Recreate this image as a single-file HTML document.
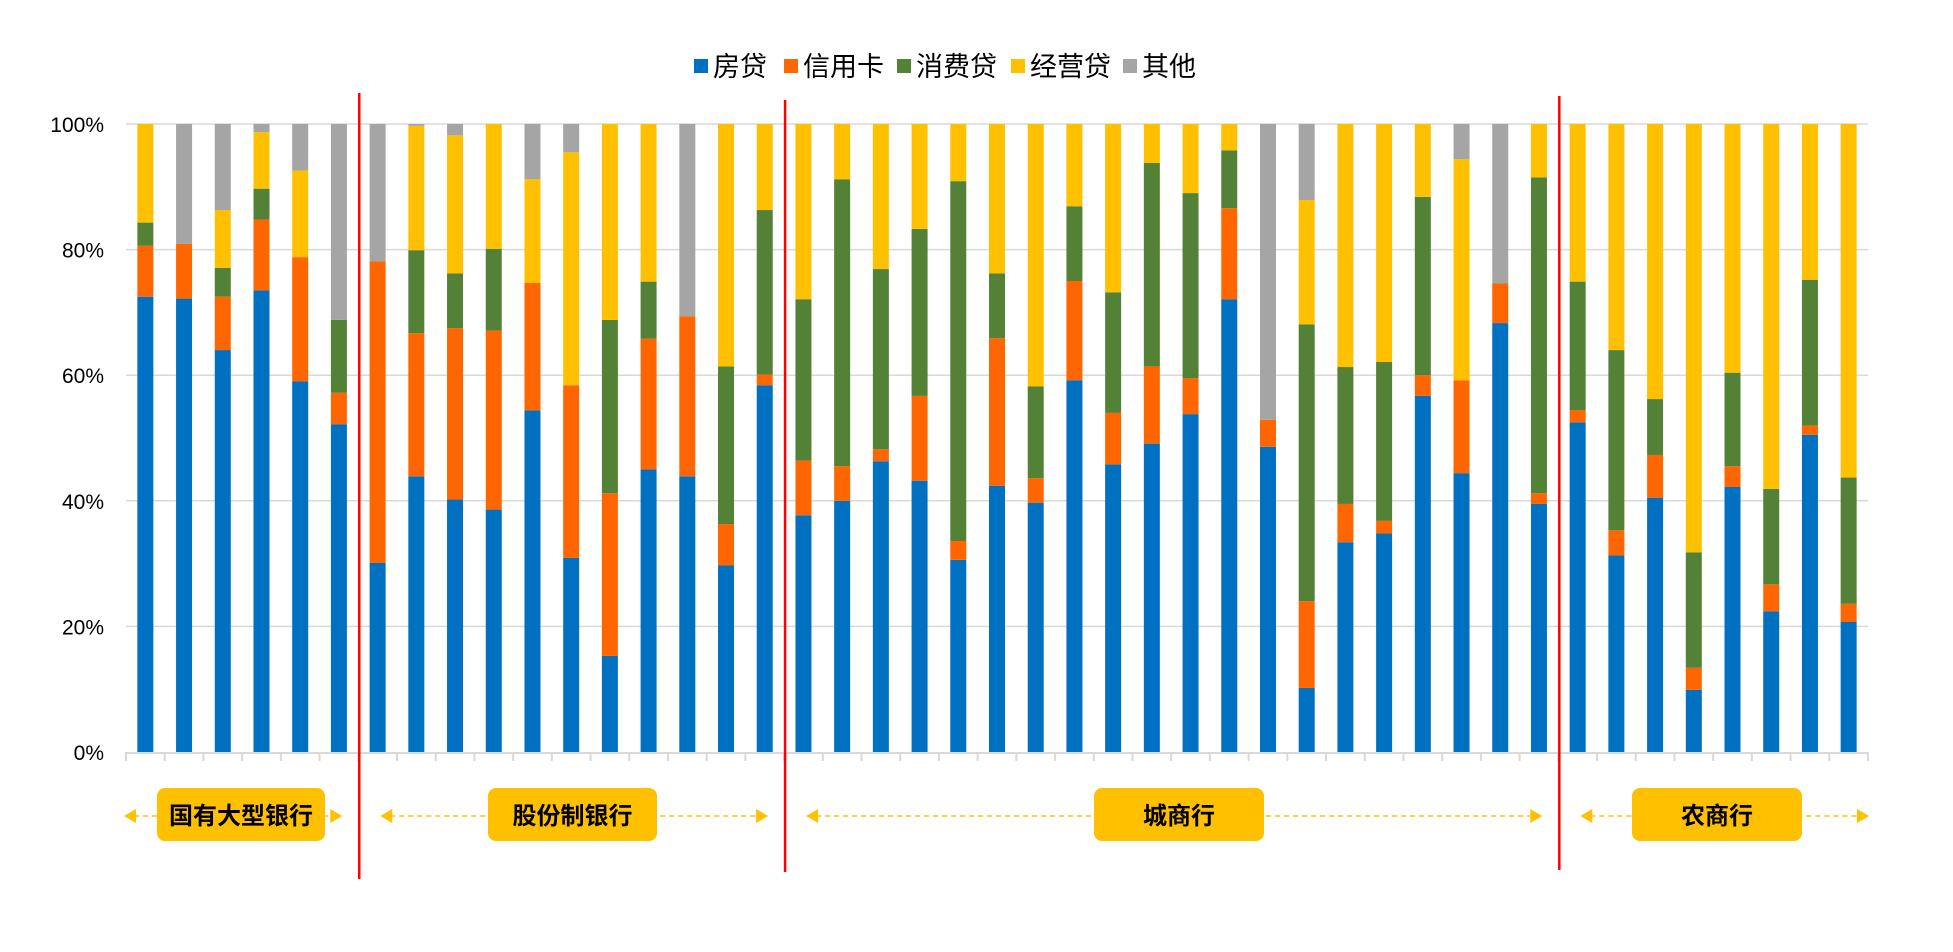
<!DOCTYPE html>
<html><head><meta charset="utf-8"><style>
html,body{margin:0;padding:0;background:#fff;}
svg{display:block;font-family:"Liberation Sans","Noto Sans CJK SC",sans-serif;}
</style></head><body>
<svg id="chart" width="1953" height="952" viewBox="0 0 1953 952" xmlns="http://www.w3.org/2000/svg">
<g id="grid"></g>
<g id="bars"></g>
<g id="axis"></g>
<g id="yticks"></g>
<g id="legend"></g>
<g id="groups"></g>
</svg>
<script>
const housing = [72.5,72.2,64.0,73.5,59.0,52.2,30.1,43.9,40.2,38.6,54.4,30.9,15.3,45.0,43.9,29.7,58.4,37.7,40.0,46.3,43.2,30.6,42.4,39.7,59.2,45.8,49.1,53.8,72.1,48.6,10.2,33.4,34.8,56.7,44.4,68.3,39.5,52.5,31.3,40.5,9.9,42.2,22.4,50.5,20.7];
const creditCard = [8.1,8.7,8.5,11.3,19.8,5.0,48.0,22.8,27.3,28.5,20.3,27.5,25.9,20.8,25.5,6.6,1.7,8.7,5.5,1.9,13.5,3.0,23.5,3.9,15.8,8.2,12.3,5.7,14.5,4.3,13.8,6.1,2.0,3.3,14.8,6.3,1.7,1.9,4.0,6.8,3.5,3.3,4.3,1.5,2.9];
const consumer = [3.7,0,4.6,4.9,0,11.6,0,13.2,8.7,13.0,0,0,27.6,9.1,0,25.1,26.2,25.7,45.7,28.7,26.6,57.3,10.3,14.6,11.9,19.2,32.4,29.5,9.2,0,44.1,21.8,25.3,28.4,0,0,50.3,20.5,28.7,8.9,18.4,14.9,15.2,23.2,20.1];
const business = [15.7,0,9.2,9.0,13.8,0,0,19.8,22.0,19.9,16.5,37.1,31.2,25.1,0,38.6,13.7,27.9,8.8,23.1,16.7,9.1,23.8,41.8,13.1,26.8,6.2,11.0,4.2,0,19.8,38.7,37.9,11.6,35.2,0,8.5,25.1,36.0,43.8,68.2,39.6,58.1,24.8,56.3];
const other = [0,19.1,13.7,1.3,7.4,31.2,21.9,0.3,1.8,0,8.8,4.5,0,0,30.6,0,0,0,0,0,0,0,0,0,0,0,0,0,0,47.1,12.1,0,0,0,5.6,25.4,0,0,0,0,0,0,0,0,0];
const seriesNames = ["房贷","信用卡","消费贷","经营贷","其他"];
const tickLabels = ["0%","20%","40%","60%","80%","100%"];
const tickValues = [0,20,40,60,80,100];
const groupNames = ["国有大型银行","股份制银行","城商行","农商行"];
const groupSizes = [6,11,20,8];

const NS="http://www.w3.org/2000/svg";
const colors=["#0070C0","#FF6600","#538135","#FFC000","#A5A5A5"];
const series=[housing,creditCard,consumer,business,other];
const X0=126,X1=1868,Y0=752,Y100=124;
const n=housing.length, step=(X1-X0)/n, bw=16;
const y=v=>Y0-(Y0-Y100)*v/100;
const xc=i=>X0+step*(i+0.5);
function mk(tag,attrs,parent){const e=document.createElementNS(NS,tag);for(const k in attrs)e.setAttribute(k,attrs[k]);parent.appendChild(e);return e;}

const grid=document.getElementById('grid');
tickValues.forEach((t,i)=>{
  if(t>0){const l=mk('line',{x1:X0,x2:X1,y1:y(t),y2:y(t),stroke:'#D9D9D9','stroke-width':1.5},grid);
  
  }
  const tx=mk('text',{x:104,y:y(t)+8,'text-anchor':'end','font-size':21,fill:'#000'},document.getElementById('yticks'));
  tx.textContent=tickLabels[i];
  
  
});

const bars=document.getElementById('bars');
for(let i=0;i<n;i++){
  let cum=0;
  series.forEach((s,k)=>{
    const v=s[i]; if(v<=0){return;}
    const r=mk('rect',{x:xc(i)-bw/2,y:y(cum+v),width:bw,height:y(cum)-y(cum+v),fill:colors[k]},bars);
    
    
    cum+=v;
  });
}

const axis=document.getElementById('axis');
const al=mk('line',{x1:X0,x2:X1,y1:Y0+1,y2:Y0+1,stroke:'#D9D9D9','stroke-width':2},axis);


for(let i=0;i<=n;i++){
  const t=mk('line',{x1:X0+step*i,x2:X0+step*i,y1:Y0,y2:Y0+9,stroke:'#D9D9D9','stroke-width':2},axis);
  
  
}

const legend=document.getElementById('legend');
const lx=[694,784,897,1011,1123];
seriesNames.forEach((nm,k)=>{
  const g=mk('g',{},legend);
  
  
  mk('rect',{x:lx[k],y:59,width:14,height:14,fill:colors[k]},g);
  const t=mk('text',{x:lx[k]+19,y:76,'font-size':27,fill:'#000'},g);
  t.textContent=nm;
});

// separators and group labels
const groups=document.getElementById('groups');
const sepTop=[93,100,96], sepBot=[879,872,870];
let acc=0;
const boxes=[[157,325],[488,657],[1094,1264],[1632,1802]];
groupSizes.forEach((sz,gi)=>{
  const left=X0+step*acc, right=X0+step*(acc+sz);
  const g=mk('g',{},groups);
  
  
  const lt=left+(gi===0?-2:22), rt=right-(gi===groupSizes.length-1?-1:16);
  mk('line',{x1:lt+10,x2:rt-10,y1:816,y2:816,stroke:'#FFC000','stroke-width':1.5,'stroke-dasharray':'5,4'},g);
  mk('polygon',{points:`${lt},816 ${lt+12},809 ${lt+12},823`,fill:'#FFC000'},g);
  mk('polygon',{points:`${rt},816 ${rt-12},809 ${rt-12},823`,fill:'#FFC000'},g);
  const b=boxes[gi];
  mk('rect',{x:b[0],y:788,width:b[1]-b[0],height:53,rx:8,fill:'#FFC000'},g);
  const t=mk('text',{x:(b[0]+b[1])/2,y:824,'text-anchor':'middle','font-size':24,'font-weight':'bold',fill:'#000'},g);
  t.textContent=groupNames[gi];
  acc+=sz;
  if(gi<groupSizes.length-1){
    const sx=X0+step*acc+1;
    const l=mk('line',{x1:sx,x2:sx,y1:sepTop[gi],y2:sepBot[gi],stroke:'#FF0000','stroke-width':2.5},groups);
    
    
  }
});
</script>
</body></html>
